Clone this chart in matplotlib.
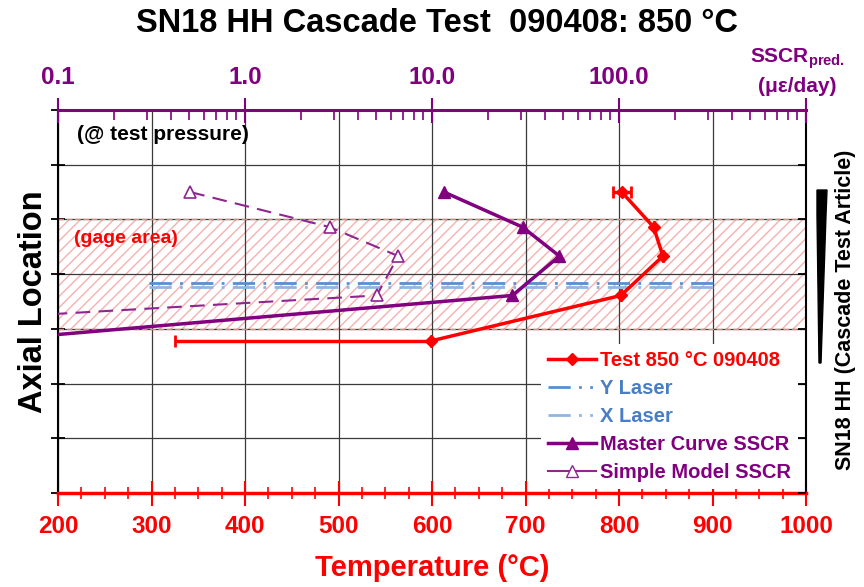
import matplotlib
matplotlib.use("Agg")
import matplotlib.pyplot as plt
from matplotlib.patches import Polygon
from matplotlib.lines import Line2D
import matplotlib.ticker as mticker

plt.rcParams['font.family'] = ['Liberation Sans', 'DejaVu Sans']
plt.rcParams['font.weight'] = 'bold'
plt.rcParams['mathtext.fontset'] = 'custom'
plt.rcParams['mathtext.bf'] = 'Liberation Sans:bold'
plt.rcParams['mathtext.rm'] = 'Liberation Sans:bold'

RED = '#ff0000'
PURPLE = '#800080'
LPURPLE = '#8f2590'
BLUE1 = '#5a8ed0'
BLUE2 = '#8fb5e3'

# axial location of the thermocouples / prediction points (arbitrary units)
axial_loc = [5.5, 4.86, 4.33, 3.61, 2.78]

# measured temperature (C) with horizontal error bars
test_temp = [803, 837, 847, 802, 599]
test_err_lo = [9, 0, 0, 0, 274]
test_err_hi = [10, 0, 0, 0, 0]

# predicted steady state creep rate (micro-strain / day)
master_sscr = [11.6, 30.5, 48.0, 26.9, 0.04]
simple_sscr = [0.51, 2.84, 6.6, 5.06, 0.0003]

# laser lines
laser_temp = [297, 900]
y_laser_loc = [3.84, 3.84]
x_laser_loc = [3.77, 3.77]

gage_lo, gage_hi = 3.0, 5.0

top_ticks = [0.1, 1, 10, 100, 1000]
top_labels = ['0.1', '1.0', '10.0', '100.0', '']

fig = plt.figure(figsize=(8.64, 5.87), dpi=100)
ax = fig.add_axes([58/864, 94/587, 748/864, 383/587])

ax.set_xlim(200, 1000)
ax.set_ylim(0, 7)

# gage area band
ax.axhspan(gage_lo, gage_hi, facecolor='white', edgecolor='#f7b0b0', hatch='///', lw=0, zorder=0.5)
ax.axhline(gage_lo, color='#e88080', lw=1, ls=(0, (4, 2)), zorder=0.6)
ax.axhline(gage_hi, color='#e88080', lw=1, ls=(0, (4, 2)), zorder=0.6)

ax.xaxis.set_major_locator(mticker.MultipleLocator(100))
ax.xaxis.set_minor_locator(mticker.MultipleLocator(25))
ax.yaxis.set_major_locator(mticker.MultipleLocator(1))
ax.yaxis.set_minor_locator(mticker.MultipleLocator(0.2))
ax.set_yticklabels([])
ax.grid(True, which='major', color='#3a3a3a', lw=0.9)
ax.set_axisbelow(True)

ax.plot(laser_temp, y_laser_loc, color=BLUE1, lw=2, ls=(0, (8, 3, 1, 3)), zorder=3)
ax.plot(laser_temp, x_laser_loc, color=BLUE2, lw=2, ls=(0, (8, 3, 1, 3)), zorder=3)

ax.errorbar(test_temp, axial_loc, xerr=[test_err_lo, test_err_hi], color=RED, lw=2.5,
            marker='D', ms=6, capsize=4, capthick=2, elinewidth=2.5, zorder=5)

ax.tick_params(axis='x', which='major', direction='inout', length=18, width=1.5,
               colors=RED, labelsize=17.5, pad=7)
ax.tick_params(axis='x', which='minor', direction='inout', length=9, width=1.2, colors=RED)
ax.tick_params(axis='y', which='major', direction='inout', length=10, width=1.3, right=False)
ax.tick_params(axis='y', which='minor', direction='inout', length=6, width=1.0, right=False)
for lab in ax.get_xticklabels():
    lab.set_fontweight('bold')

ax.spines['bottom'].set_color(RED)
ax.spines['bottom'].set_linewidth(2.5)
ax.spines['left'].set_linewidth(1.5)
ax.spines['right'].set_linewidth(1.5)
ax.spines['top'].set_visible(False)

ax.set_xlabel('Temperature (°C)', color=RED, fontsize=21, fontweight='bold', labelpad=11)
ax.set_ylabel('Axial Location', fontsize=23.5, fontweight='bold', labelpad=-2)

ax.text(0.026, 0.935, '(@ test pressure)', transform=ax.transAxes, fontsize=15,
        fontweight='bold', va='center')
ax.text(0.021, 0.665, '(gage area)', transform=ax.transAxes, fontsize=14,
        fontweight='bold', color=RED, va='center')

# top log axis for creep rate
ax2 = ax.twiny()
ax2.set_xscale('log')
ax2.set_xlim(0.1, 1000)
ax2.plot(master_sscr, axial_loc, color=PURPLE, lw=2.5, marker='^', ms=9, zorder=5)
ax2.plot(simple_sscr, axial_loc, color=LPURPLE, lw=1.5, ls=(0, (7, 4)), marker='^', ms=9,
         mfc='white', mec=LPURPLE, mew=1.2, zorder=5)
ax2.xaxis.set_major_locator(mticker.FixedLocator(top_ticks))
ax2.xaxis.set_major_formatter(mticker.FixedFormatter(top_labels))
ax2.xaxis.set_minor_locator(mticker.LogLocator(base=10, subs=range(2, 10)))
ax2.xaxis.set_minor_formatter(mticker.NullFormatter())
ax2.tick_params(axis='x', which='major', direction='inout', length=18, width=1.5,
                colors=PURPLE, labelsize=17.5, pad=6)
ax2.tick_params(axis='x', which='minor', direction='in', length=7, width=1.2, colors=PURPLE)
for lab in ax2.get_xticklabels():
    lab.set_fontweight('bold')
ax2.spines['top'].set_color(PURPLE)
ax2.spines['top'].set_linewidth(2.2)
for s in ['bottom', 'left', 'right']:
    ax2.spines[s].set_visible(False)
ax2.yaxis.set_visible(True)
ax2.yaxis.tick_right()
ax2.yaxis.set_major_locator(mticker.MultipleLocator(1))
ax2.yaxis.set_minor_locator(mticker.NullLocator())
ax2.yaxis.set_major_formatter(mticker.NullFormatter())
ax2.tick_params(axis='y', direction='in', length=6, width=1.3)

handles = [
    Line2D([], [], color=RED, lw=2.5, marker='D', ms=6),
    Line2D([], [], color=BLUE1, lw=2, ls=(0, (8, 3, 1, 3, 1, 3))),
    Line2D([], [], color=BLUE2, lw=2, ls=(0, (8, 3, 1, 3, 1, 3))),
    Line2D([], [], color=PURPLE, lw=2.5, marker='^', ms=9),
    Line2D([], [], color=LPURPLE, lw=1.5, marker='^', ms=9, mfc='white', mec=LPURPLE),
]
labels = ['Test 850 °C 090408', 'Y Laser', 'X Laser', 'Master Curve SSCR', 'Simple Model SSCR']
text_colors = [RED, '#4a7ec4', '#4a7ec4', PURPLE, PURPLE]
leg = ax2.legend(handles, labels, loc='lower right', bbox_to_anchor=(0.995, 0.0),
                 prop={'weight': 'bold', 'size': 14.5}, frameon=True, framealpha=1,
                 edgecolor='none', facecolor='white', fancybox=False,
                 handlelength=2.4, handletextpad=0.2, labelspacing=0.45, borderpad=0.35,
                 borderaxespad=0.2)
for t, c in zip(leg.get_texts(), text_colors):
    t.set_color(c)
leg.set_zorder(10)

fig.text(0.506, 0.960, 'SN18 HH Cascade Test  090408: 850 °C', ha='center', va='center',
         fontsize=23.5, fontweight='bold')
fig.text(0.923, 0.901, r'SSCR$_{\mathbf{pred.}}$', ha='center', va='center',
         fontsize=15, fontweight='bold', color=PURPLE)
fig.text(0.923, 0.853, '(με/day)', ha='center', va='center',
         fontsize=15, fontweight='bold', color=PURPLE)
fig.text(0.979, 0.472, 'SN18 HH (Cascade Test Article)', rotation=90, ha='center',
         va='center', fontsize=15.5, fontweight='bold')

# sketch of the test article
w = 864.0
h = 587.0
art = [(817, 190), (827, 190), (826, 215), (821, 363), (819, 363), (817, 215)]
fig.patches.append(Polygon([(x / w, 1 - y / h) for x, y in art], closed=True,
                           transform=fig.transFigure, facecolor='black', edgecolor='black'))

fig.savefig('out.png', dpi=100)
